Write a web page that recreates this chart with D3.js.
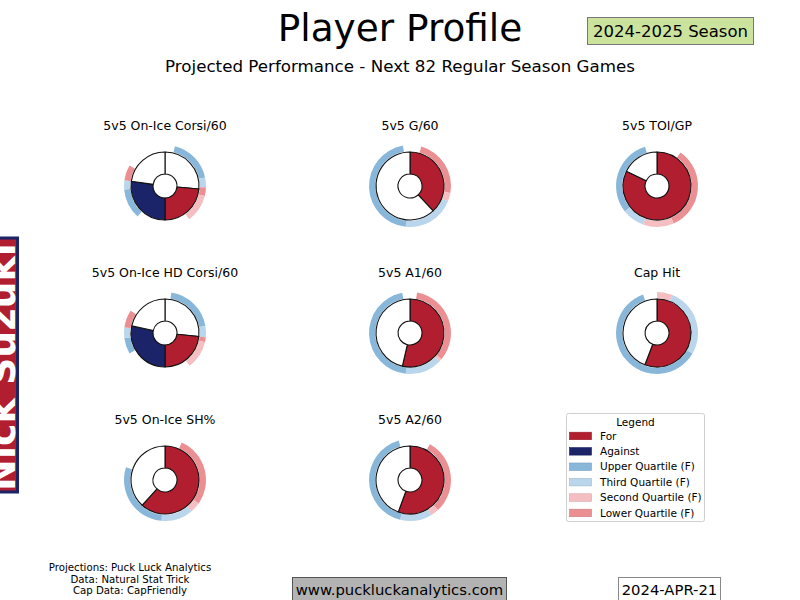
<!DOCTYPE html>
<html>
<head>
<meta charset="utf-8">
<script src="https://cdn.jsdelivr.net/npm/d3@7"></script>
<style>
  body { margin: 0; background: #fff; }
  svg { display: block; font-family: "DejaVu Sans", sans-serif; }
</style>
</head>
<body>
<div id="viz"></div>
<script>
/***************** Data *********************/
var playerName = "Nick Suzuki";
var season = "2024-2025 Season";
var runDate = "2024-APR-21";
var metrics = ["5v5 On-Ice Corsi/60", "5v5 G/60", "5v5 TOI/GP",
               "5v5 On-Ice HD Corsi/60", "5v5 A1/60", "Cap Hit",
               "5v5 On-Ice SH%", "5v5 A2/60"];
// share of the scale filled (%). shot metrics: For = right half, Against = left half
var forPct = [47.2, 38.1, 82.2, 46.7, 53.6, 55.8, 61.7, 55.6];
var againstPct = [54.4, null, null, 56.7, null, null, null, null];
// forward quartile bands round the ring, clockwise from 12 o'clock (degrees)
var outerBands = [
  [["gap", 14], ["upper", 64], ["third", 14], ["lower", 12], ["second", 40], ["gap", 78], ["upper", 43], ["third", 13], ["lower", 22], ["gap", 60]],
  [["gap", 16], ["lower", 84], ["second", 12], ["third", 74], ["upper", 164], ["gap", 10]],
  [["gap", 35], ["lower", 121], ["second", 44], ["third", 32], ["upper", 111], ["gap", 17]],
  [["gap", 9], ["upper", 71], ["third", 16], ["lower", 7], ["second", 40], ["gap", 97], ["upper", 23], ["third", 15], ["lower", 25], ["gap", 57]],
  [["gap", 10], ["lower", 120], ["second", 4], ["third", 52], ["upper", 163], ["gap", 11]],
  [["second", 22], ["third", 98], ["upper", 220], ["gap", 20]],
  [["gap", 24], ["lower", 101], ["second", 15], ["third", 45], ["upper", 103], ["gap", 72]],
  [["gap", 29], ["lower", 108], ["second", 12], ["third", 45], ["upper", 150], ["gap", 16]]
];
var legendKeys = ["for", "against", "upper", "third", "second", "lower"];
var legendLabels = ["For", "Against", "Upper Quartile (F)", "Third Quartile (F)",
                    "Second Quartile (F)", "Lower Quartile (F)"];
var footLines = ["Projections: Puck Luck Analytics", "Data: Natural Stat Trick", "Cap Data: CapFriendly"];

/***************** Setup *********************/
var w = 800, h = 600,
    colX = [165, 410, 657],
    rowY = [186, 333, 480],
    rHole = 12, rMain = 34, rOut0 = 34.8, rOut1 = 41,
    text_color = "#000";

var colors = {
  "for": "#b01e2f", "against": "#1b2369",
  "upper": "#89b7da", "third": "#b9d6ec",
  "second": "#f5bec0", "lower": "#eb8f93",
  "blank": "#ffffff"
};

var svg = d3.select("#viz")
    .append("svg")
    .attr("width", w)
    .attr("height", h);

/* main ring slices built from the percentages */
var mainSlices = function(i) {
  var f = forPct[i], a = againstPct[i];
  if (a === null) return [["for", f], ["blank", 100 - f]];
  return [["blank", (100 - f) / 2], ["for", f / 2], ["against", a / 2], ["blank", (100 - a) / 2]];
};

var pie = d3.pie().sort(null).value(function(d) { return d[1]; });
var mainArc = d3.arc().innerRadius(rHole).outerRadius(rMain);
var outArc = d3.arc().innerRadius(rOut0).outerRadius(rOut1);

/***************** Header *********************/
svg.append("text")
    .attr("x", 400).attr("y", 41)
    .attr("text-anchor", "middle")
    .style("font-size", "37.4px")
    .style("fill", text_color)
    .text("Player Profile");

svg.append("text")
    .attr("x", 400).attr("y", 72)
    .attr("text-anchor", "middle")
    .style("font-size", "16.7px")
    .text("Projected Performance - Next 82 Regular Season Games");

svg.append("rect")
    .attr("x", 587.5).attr("y", 17.5).attr("width", 166).attr("height", 27)
    .style("fill", "#cbe39c").style("stroke", "#777");
svg.append("text")
    .attr("x", 670.5).attr("y", 37)
    .attr("text-anchor", "middle")
    .style("font-size", "16.5px")
    .text(season);

/***************** Name banner *********************/
svg.append("rect")
    .attr("x", -10).attr("y", 238).attr("width", 27.5).attr("height", 254)
    .style("fill", "#b01e2f").style("stroke", "#1b2369").style("stroke-width", 3);
svg.append("text")
    .attr("transform", "translate(15,367) rotate(-90)")
    .attr("text-anchor", "middle")
    .style("font-size", "38px")
    .style("font-weight", "bold")
    .style("fill", "#fff")
    .text(playerName);

/***************** Donuts *********************/
metrics.forEach(function(m, i) {
  var cx = colX[i % 3], cy = rowY[Math.floor(i / 3)];
  var g = svg.append("g").attr("transform", "translate(" + cx + "," + cy + ")");

  g.append("text")
      .attr("y", -56)
      .attr("text-anchor", "middle")
      .style("font-size", "12.5px")
      .text(m);

  g.selectAll(".band").data(pie(outerBands[i]))
    .enter().append("path")
      .attr("class", "band")
      .attr("d", outArc)
      .style("fill", function(d) { return d.data[0] === "gap" ? "none" : colors[d.data[0]]; });

  g.selectAll(".slice").data(pie(mainSlices(i)))
    .enter().append("path")
      .attr("class", "slice")
      .attr("d", mainArc)
      .style("fill", function(d) { return colors[d.data[0]]; })
      .style("stroke", "#111")
      .style("stroke-width", 1.1)
      .style("stroke-linejoin", "round");
});

/***************** Legend *********************/
var lg = svg.append("g").attr("transform", "translate(566,413)");
lg.append("rect")
    .attr("x", 0.5).attr("y", 0.5).attr("width", 138).attr("height", 108).attr("rx", 2)
    .style("fill", "#fff").style("stroke", "#d0d0d0");
lg.append("text")
    .attr("x", 69.5).attr("y", 12.5)
    .attr("text-anchor", "middle")
    .style("font-size", "10.5px")
    .text("Legend");
var items = lg.selectAll(".item").data(legendKeys)
  .enter().append("g")
    .attr("class", "item")
    .attr("transform", function(d, i) { return "translate(0," + (22.7 + i * 15.4) + ")"; });
items.append("rect")
    .attr("x", 3.5).attr("y", -3.5).attr("width", 22).attr("height", 7.5)
    .style("fill", function(d) { return colors[d]; })
    .style("stroke", function(d) { return d3.color(colors[d]).darker(0.4); })
    .style("stroke-width", 0.6);
items.append("text")
    .attr("x", 34).attr("y", 3.8)
    .style("font-size", "10.5px")
    .text(function(d, i) { return legendLabels[i]; });

/***************** Footer *********************/
svg.selectAll(".foot").data(footLines)
  .enter().append("text")
    .attr("class", "foot")
    .attr("x", 130)
    .attr("y", function(d, i) { return 571 + i * 11.7; })
    .attr("text-anchor", "middle")
    .style("font-size", "10.2px")
    .text(function(d) { return d; });

svg.append("rect")
    .attr("x", 292.5).attr("y", 577.5).attr("width", 214).attr("height", 26)
    .style("fill", "#b3b3b3").style("stroke", "#555");
svg.append("text")
    .attr("x", 399.5).attr("y", 595)
    .attr("text-anchor", "middle")
    .style("font-size", "14.8px")
    .text("www.puckluckanalytics.com");

svg.append("rect")
    .attr("x", 618.5).attr("y", 577.5).attr("width", 102).attr("height", 26)
    .style("fill", "#fff").style("stroke", "#888");
svg.append("text")
    .attr("x", 669.5).attr("y", 595)
    .attr("text-anchor", "middle")
    .style("font-size", "14.8px")
    .text(runDate);
</script>
</body>
</html>
